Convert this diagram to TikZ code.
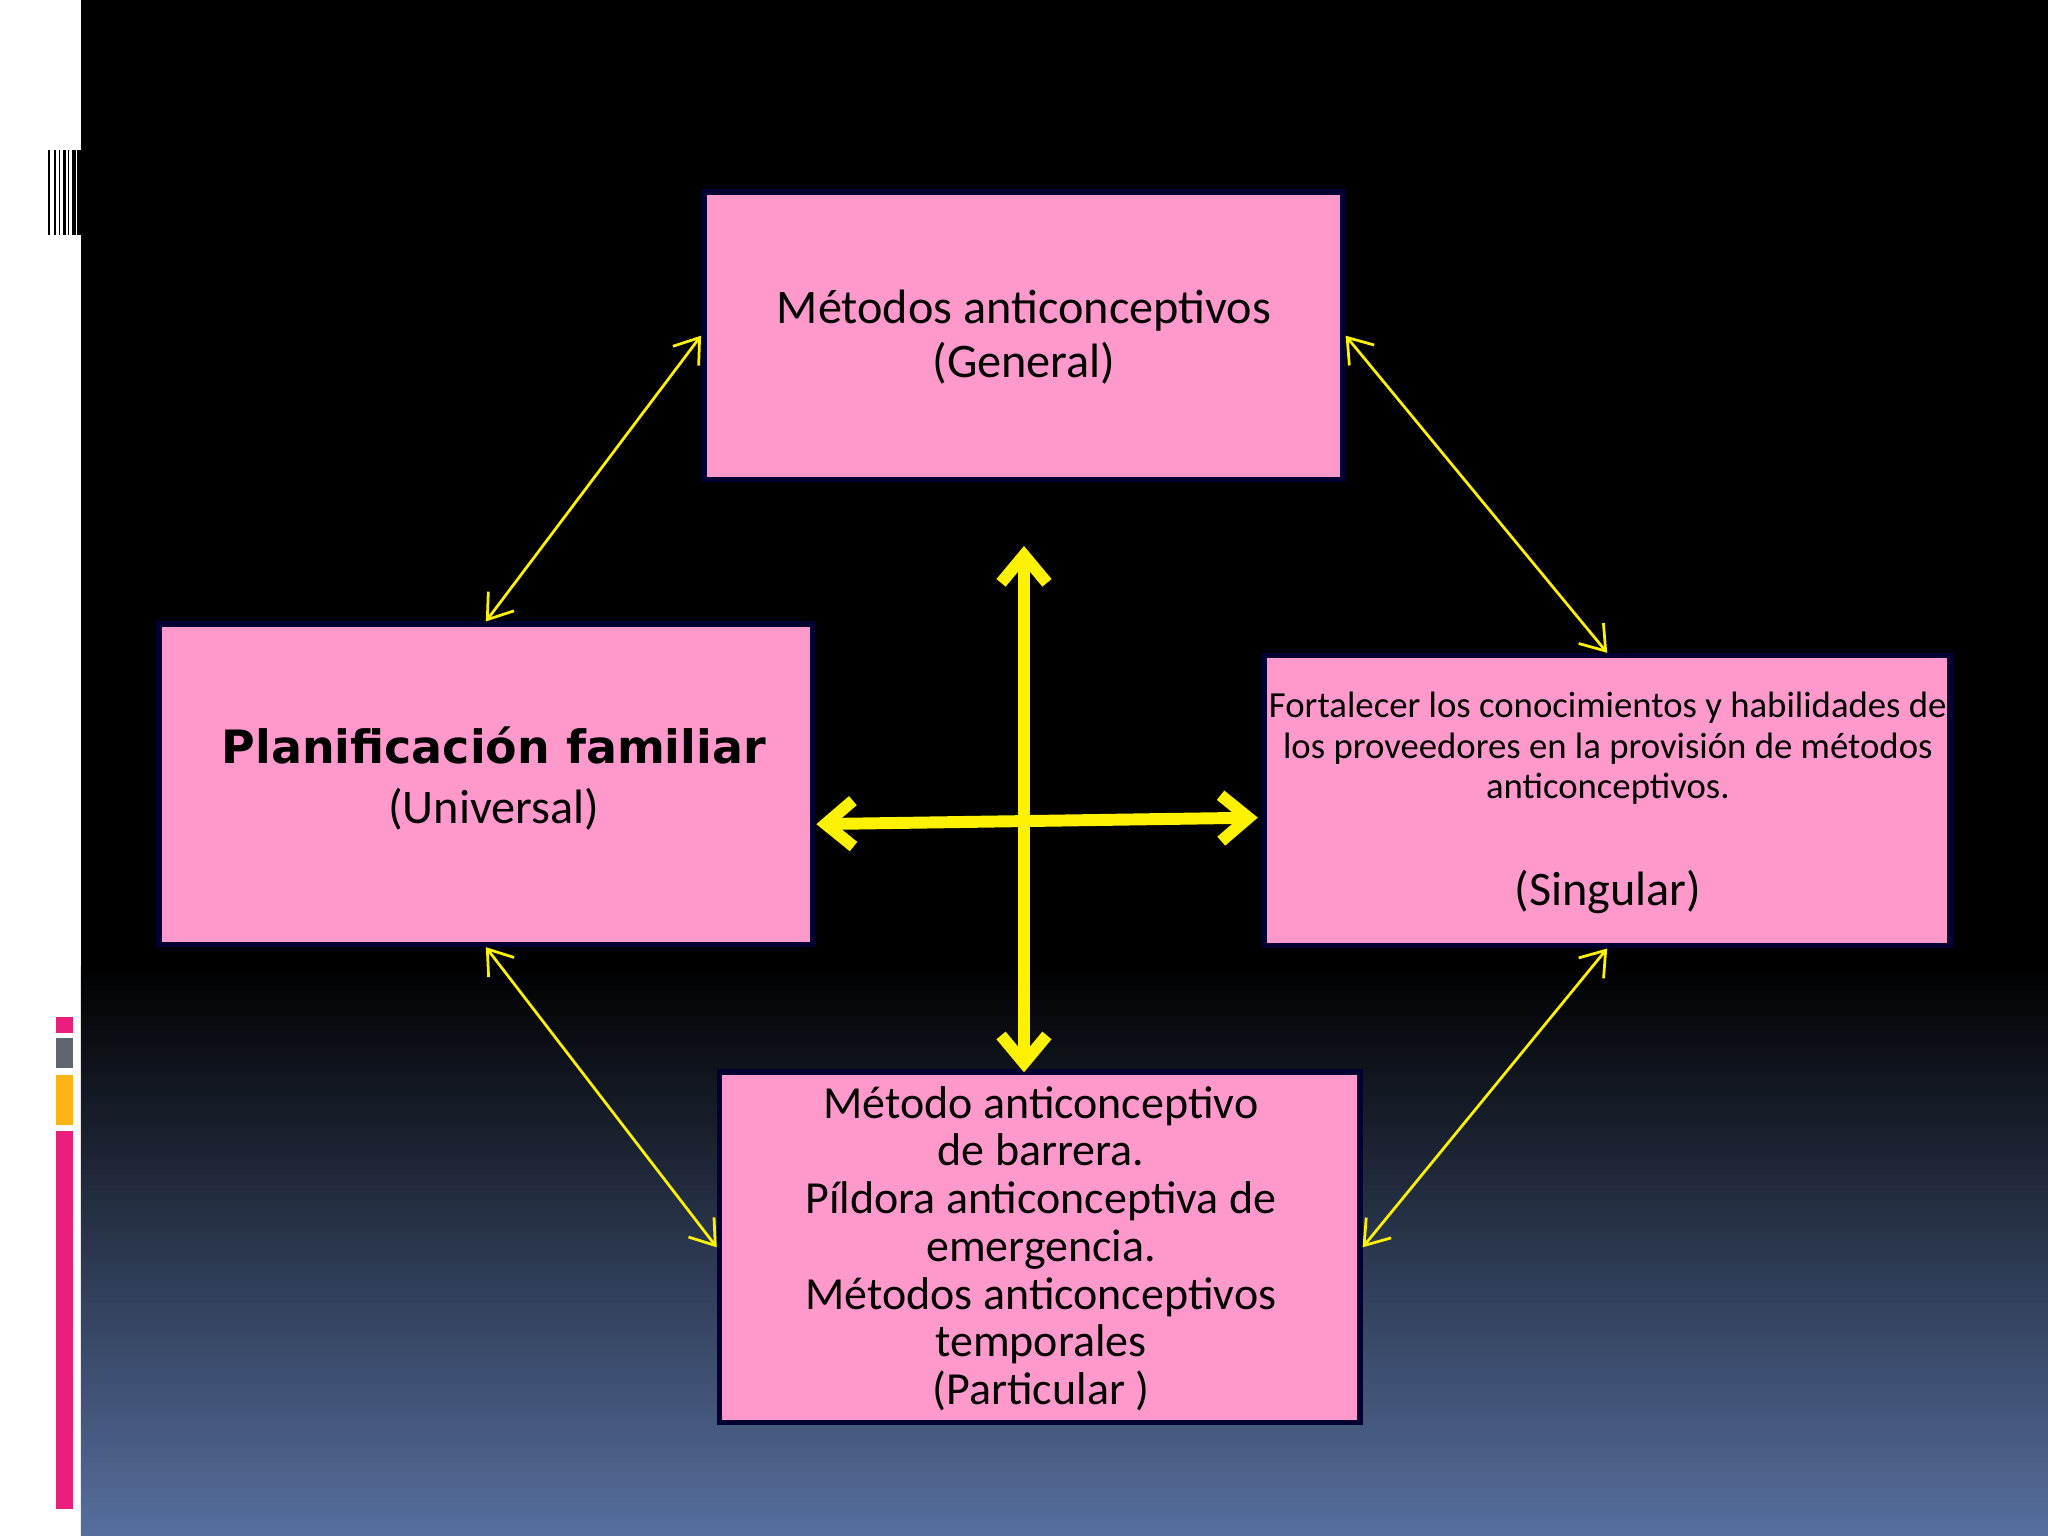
\documentclass[tikz,border=0pt]{standalone}
\usepackage{fontspec}
\setmainfont{Carlito}
\newfontfamily\boldfont{DejaVu Sans}
\usetikzlibrary{arrows.meta}
\definecolor{pinkbox}{HTML}{FF99CC}
\definecolor{bgbot}{HTML}{566F9E}
\definecolor{stpink}{HTML}{E91E7D}
\definecolor{stgray}{HTML}{5F6670}
\definecolor{storange}{HTML}{FDB515}
\tikzset{
 box/.style={draw=black!80!blue, line width=1.2pt, fill=pinkbox, align=center, inner sep=0pt},
 txt/.style={align=center, inner sep=0pt},
 thin/.style={draw=yellow, line width=0.6pt, {Straight Barb[length=5pt,width=7pt]}-{Straight Barb[length=5pt,width=7pt]}},
 thick/.style={draw=yellow, line width=2.6pt, {Straight Barb[length=6pt,width=10pt]}-{Straight Barb[length=6pt,width=10pt]}}
}
\begin{document}
\begin{tikzpicture}[x=0.01cm,y=-0.01cm]
\useasboundingbox (0,0) rectangle (1568,1176);
\fill[white] (0,0) rectangle (62,1176);
\fill[black] (62,0) rectangle (1568,740);
\shade[top color=black, bottom color=bgbot] (62,740) rectangle (1568,1176);
\foreach \x/\w in {37/1.5,41/2,45/1,48/2.5,52/1,55/3,59/3}{\fill[black] (\x,115) rectangle (\x+\w,180);}
\fill[stpink] (43,779) rectangle (56,791);
\fill[stgray] (43,795) rectangle (56,818);
\fill[storange] (43,823) rectangle (56,861);
\fill[stpink] (43,866) rectangle (56,1155);
\node[box, minimum width=4.89cm, minimum height=2.20cm] (top) at (783.5,257) {};
\node[txt, font=\fontsize{10.5}{11.8}\selectfont] at (784,258) {Métodos anticonceptivos\\(General)};
\node[box, minimum width=5.00cm, minimum height=2.45cm] (left) at (372,600.5) {};
\node[txt] at (378,596) {{\boldfont\bfseries\fontsize{10}{12}\selectfont Planificación familiar}\\[1pt]{\fontsize{10.5}{12}\selectfont (Universal)}};
\node[box, minimum width=5.25cm, minimum height=2.22cm] (right) at (1230.5,613) {};
\node[txt, font=\fontsize{8}{8.8}\selectfont] at (1231,573) {Fortalecer los conocimientos y habilidades de\\los proveedores en la provisión de métodos\\anticonceptivos.};
\node[txt, font=\fontsize{10.5}{12}\selectfont] at (1231,683) {(Singular)};
\node[box, minimum width=4.90cm, minimum height=2.68cm] (bot) at (796,955) {};
\node[txt, font=\fontsize{10}{10.4}\selectfont] at (797,956) {Método anticonceptivo\\de barrera.\\Píldora anticonceptiva de\\emergencia.\\Métodos anticonceptivos\\temporales\\(Particular )};
\draw[thin] (top.west) -- (left.north);
\draw[thin] (top.east) -- (right.north);
\draw[thin] (left.south) -- (bot.west);
\draw[thin] (right.south) -- (bot.east);
\coordinate (vt) at (784,418);
\coordinate (vb) at (784,821);
\coordinate (hl) at (625,631);
\coordinate (hr) at (963,626);
\draw[thick] (vb) -- (vt);
\draw[thick] (hl) -- (hr);
\end{tikzpicture}
\end{document}
